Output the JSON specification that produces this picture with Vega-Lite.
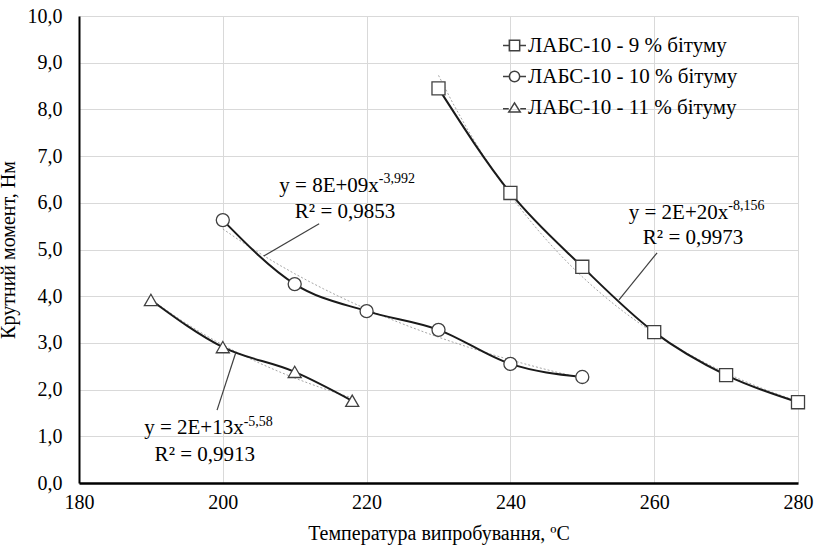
{
  "$schema": "https://vega.github.io/schema/vega-lite/v6.json",
  "width": 719,
  "height": 467,
  "autosize": {"type": "none"},
  "padding": {"left": 79, "top": 16, "right": 19, "bottom": 67},
  "view": {"stroke": null},
  "datasets": {
    "pts": [
      {"series": "ЛАБС-10 - 9 % бітуму", "t": 230, "m": 8.45},
      {"series": "ЛАБС-10 - 9 % бітуму", "t": 240, "m": 6.21},
      {"series": "ЛАБС-10 - 9 % бітуму", "t": 250, "m": 4.63},
      {"series": "ЛАБС-10 - 9 % бітуму", "t": 260, "m": 3.23},
      {"series": "ЛАБС-10 - 9 % бітуму", "t": 270, "m": 2.31},
      {"series": "ЛАБС-10 - 9 % бітуму", "t": 280, "m": 1.73},
      {"series": "ЛАБС-10 - 10 % бітуму", "t": 200, "m": 5.63},
      {"series": "ЛАБС-10 - 10 % бітуму", "t": 210, "m": 4.26},
      {"series": "ЛАБС-10 - 10 % бітуму", "t": 220, "m": 3.68},
      {"series": "ЛАБС-10 - 10 % бітуму", "t": 230, "m": 3.28},
      {"series": "ЛАБС-10 - 10 % бітуму", "t": 240, "m": 2.55},
      {"series": "ЛАБС-10 - 10 % бітуму", "t": 250, "m": 2.27},
      {"series": "ЛАБС-10 - 11 % бітуму", "t": 190, "m": 3.92},
      {"series": "ЛАБС-10 - 11 % бітуму", "t": 200, "m": 2.91},
      {"series": "ЛАБС-10 - 11 % бітуму", "t": 210, "m": 2.38},
      {"series": "ЛАБС-10 - 11 % бітуму", "t": 218, "m": 1.76}
    ],
    "labels": [
      {"t": 221.7, "m": 6.36, "txt": "y = 8E+09x", "kind": "main"},
      {"t": 221.7, "m": 6.51, "txt": "-3,992", "kind": "sup"},
      {"t": 217.0, "m": 5.80, "txt": "R² = 0,9853", "kind": "r2"},
      {"t": 270.3, "m": 5.78, "txt": "y = 2E+20x", "kind": "main"},
      {"t": 270.3, "m": 5.93, "txt": "-8,156", "kind": "sup"},
      {"t": 265.4, "m": 5.25, "txt": "R² = 0,9973", "kind": "r2"},
      {"t": 202.9, "m": 1.18, "txt": "y = 2E+13x", "kind": "main"},
      {"t": 202.9, "m": 1.31, "txt": "-5,58", "kind": "sup"},
      {"t": 197.5, "m": 0.60, "txt": "R² = 0,9913", "kind": "r2"}
    ],
    "connectors": [
      {"t": 205.7, "m": 4.86, "t2": 213.4, "m2": 5.55},
      {"t": 260.4, "m": 4.93, "t2": 255.1, "m2": 3.92},
      {"t": 201.8, "m": 2.79, "t2": 199.2, "m2": 1.56}
    ]
  },
  "resolve": {"scale": {"shape": "independent"}, "legend": {"shape": "independent"}},
  "layer": [
    {
      "data": {"name": "pts"},
      "transform": [{"regression": "m", "on": "t", "groupby": ["series"], "method": "pow"}],
      "mark": {"type": "line", "color": "#a6a6a6", "strokeWidth": 1, "strokeDash": [2, 2]},
      "encoding": {
        "x": {"field": "t", "type": "quantitative", "scale": {"domain": [180, 280], "nice": false, "zero": false},
          "axis": {"values": [180, 200, 220, 240, 260, 280], "title": "Температура випробування, ºC", "labelFont": "Liberation Serif", "titleFont": "Liberation Serif", "labelColor": "#000", "titleColor": "#000", "titleFontWeight": "normal", "gridColor": "#d9d9d9", "labelFontSize": 20, "titleFontSize": 20, "ticks": false, "labelFlush": false, "labelPadding": 9, "titlePadding": 11, "domainColor": "#000", "domainWidth": 2.5, "grid": true}},
        "y": {"field": "m", "type": "quantitative", "scale": {"domain": [0, 10], "nice": false},
          "axis": {"values": [0, 1, 2, 3, 4, 5, 6, 7, 8, 9, 10], "labelExpr": "replace(format(datum.value, '.1f'), '.', ',')", "title": "Крутний момент, Нм", "labelFont": "Liberation Serif", "titleFont": "Liberation Serif", "labelColor": "#000", "titleColor": "#000", "titleFontWeight": "normal", "gridColor": "#d9d9d9", "labelFontSize": 20, "titleFontSize": 20, "ticks": false, "labelFlush": false, "labelPadding": 17, "titlePadding": 9, "domainColor": "#000", "domainWidth": 2, "grid": true}},
        "detail": {"field": "series"}
      }
    },
    {
      "data": {"name": "pts"},
      "mark": {"type": "line", "color": "#1a1a1a", "strokeWidth": 2, "interpolate": "monotone"},
      "encoding": {
        "x": {"field": "t", "type": "quantitative"},
        "y": {"field": "m", "type": "quantitative"},
        "detail": {"field": "series"}
      }
    },
    {
      "data": {"name": "connectors"},
      "mark": {"type": "rule", "color": "#404040", "strokeWidth": 1.2},
      "encoding": {
        "x": {"field": "t", "type": "quantitative"},
        "y": {"field": "m", "type": "quantitative"},
        "x2": {"field": "t2"},
        "y2": {"field": "m2"}
      }
    },
    {
      "data": {"name": "pts"},
      "mark": {"type": "point", "filled": true, "fill": "white", "stroke": "#404040", "strokeWidth": 1.3, "size": 170, "opacity": 1},
      "encoding": {
        "x": {"field": "t", "type": "quantitative"},
        "y": {"field": "m", "type": "quantitative"},
        "shape": {"field": "series", "type": "nominal",
          "scale": {"domain": ["ЛАБС-10 - 9 % бітуму", "ЛАБС-10 - 10 % бітуму", "ЛАБС-10 - 11 % бітуму"], "range": ["square", "circle", "triangle-up"]},
          "legend": null
        }
      }
    },
    {
      "data": {"name": "pts"},
      "mark": {"type": "point", "filled": false, "opacity": 0, "color": "#404040"},
      "encoding": {
        "x": {"field": "t", "type": "quantitative"},
        "y": {"field": "m", "type": "quantitative"},
        "shape": {"field": "series", "type": "nominal",
          "scale": {"domain": ["ЛАБС-10 - 9 % бітуму", "ЛАБС-10 - 10 % бітуму", "ЛАБС-10 - 11 % бітуму"],
            "range": ["M-1,0H-0.45M-0.45,-0.45H0.45V0.45H-0.45ZM0.45,0H1", "M-1,0H-0.45M-0.45,0A0.45,0.45 0 1,1 0.45,0A0.45,0.45 0 1,1 -0.45,0ZM0.45,0H1", "M-1,0.1H-0.5M0,-0.4L0.5,0.4H-0.5ZM0.5,0.1H1"]},
          "legend": {
            "title": null,
            "orient": "none",
            "legendX": 423,
            "legendY": 17,
            "labelFont": "Liberation Serif",
            "labelFontSize": 21,
            "labelColor": "#000",
            "labelLimit": 400,
            "rowPadding": 8,
            "symbolSize": 529,
            "symbolStrokeColor": "#404040",
            "labelOffset": 1,
            "encode": {
              "symbols": {
                "update": {
                  "fill": {"value": "white"},
                  "stroke": {"value": "#404040"},
                  "strokeWidth": {"value": 1.2},
                  "opacity": {"value": 1}
                }
              }
            }
          }
        }
      }
    },
    {
      "data": {"name": "labels"},
      "transform": [{"filter": "datum.kind == 'main'"}],
      "mark": {"type": "text", "align": "right", "baseline": "middle", "fontSize": 21, "font": "Liberation Serif", "color": "#000"},
      "encoding": {
        "x": {"field": "t", "type": "quantitative"},
        "y": {"field": "m", "type": "quantitative"},
        "text": {"field": "txt"}
      }
    },
    {
      "data": {"name": "labels"},
      "transform": [{"filter": "datum.kind == 'sup'"}],
      "mark": {"type": "text", "align": "left", "baseline": "middle", "fontSize": 14, "font": "Liberation Serif", "color": "#000"},
      "encoding": {
        "x": {"field": "t", "type": "quantitative"},
        "y": {"field": "m", "type": "quantitative"},
        "text": {"field": "txt"}
      }
    },
    {
      "data": {"name": "labels"},
      "transform": [{"filter": "datum.kind == 'r2'"}],
      "mark": {"type": "text", "align": "center", "baseline": "middle", "fontSize": 21, "font": "Liberation Serif", "color": "#000"},
      "encoding": {
        "x": {"field": "t", "type": "quantitative"},
        "y": {"field": "m", "type": "quantitative"},
        "text": {"field": "txt"}
      }
    }
  ]
}
